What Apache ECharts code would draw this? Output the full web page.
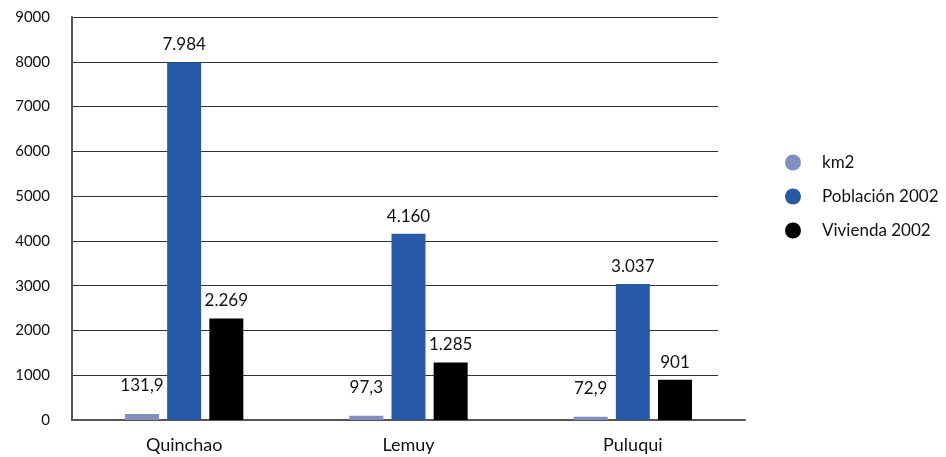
<!DOCTYPE html>
<html><head><meta charset="utf-8">
<script src="https://cdn.jsdelivr.net/npm/echarts@6/dist/echarts.min.js"></script>
<style>html,body{margin:0;padding:0;background:#fff}#c{width:946px;height:457px}</style>
</head><body><div id="c"></div>
<script>
const categories = ['Quinchao', 'Lemuy', 'Puluqui'];
const km2 = [131.9, 97.3, 72.9];
const poblacion = [7984, 4160, 3037];
const vivienda = [2269, 1285, 901];
const seriesNames = ['km2', 'Población 2002', 'Vivienda 2002'];
const yTicks = [0, 1000, 2000, 3000, 4000, 5000, 6000, 7000, 8000, 9000];

const FONT = 'Lato, "Open Sans", sans-serif';
function fmtDec(v){ return v.toFixed(1).replace('.', ','); }
function fmtThou(v){ return String(Math.round(v)).replace(/\B(?=(\d{3})+(?!\d))/g, '.'); }

const chart = echarts.init(document.getElementById('c'));
const labelStyle = {show: true, position: 'top', color: '#111', fontSize: 17, fontFamily: FONT};
chart.setOption({
  animation: false,
  textStyle: {fontFamily: FONT},
  grid: [
    {left: 72, right: 201, top: 17, bottom: 37},
    {left: 72, right: 228, top: 17, bottom: 37}
  ],
  legend: {
    orient: 'vertical', left: 780, top: 149,
    icon: 'circle', itemWidth: 16, itemHeight: 16, itemGap: 17,
    textStyle: {fontSize: 17, color: '#111', fontFamily: FONT, padding: [0, 0, 0, 16]},
    data: seriesNames
  },
  xAxis: [
    {type: 'category', gridIndex: 0, data: categories,
     axisLine: {lineStyle: {color: '#555', width: 2}}, axisTick: {show: false},
     axisLabel: {fontSize: 18, color: '#111', margin: 16, fontFamily: FONT}},
    {type: 'value', gridIndex: 1, min: 0, max: 1, show: false}
  ],
  yAxis: [
    {type: 'value', gridIndex: 0, min: yTicks[0], max: yTicks[yTicks.length-1], interval: 1000,
     axisLine: {show: true, lineStyle: {color: '#555', width: 2}}, axisTick: {show: false},
     splitLine: {show: false},
     axisLabel: {fontSize: 15, color: '#111', margin: 22, fontFamily: FONT, formatter: v => String(v)}},
    {type: 'value', gridIndex: 1, min: yTicks[0], max: yTicks[yTicks.length-1], interval: 1000,
     axisLine: {show: false}, axisTick: {show: false}, axisLabel: {show: false},
     splitLine: {show: true, lineStyle: {color: '#333', width: 1}}}
  ],
  series: [
    {name: seriesNames[0], type: 'bar', data: km2, barWidth: 34, barGap: '24%',
     itemStyle: {color: '#7F8FBF'},
     label: Object.assign({}, labelStyle, {distance: 20, formatter: p => fmtDec(p.value)})},
    {name: seriesNames[1], type: 'bar', data: poblacion, barWidth: 34, barGap: '24%',
     itemStyle: {color: '#265AA8'},
     label: Object.assign({}, labelStyle, {distance: 9, formatter: p => fmtThou(p.value)})},
    {name: seriesNames[2], type: 'bar', data: vivienda, barWidth: 34, barGap: '24%',
     itemStyle: {color: '#000000'},
     label: Object.assign({}, labelStyle, {distance: 9, formatter: p => fmtThou(p.value)})}
  ]
});
</script></body></html>
